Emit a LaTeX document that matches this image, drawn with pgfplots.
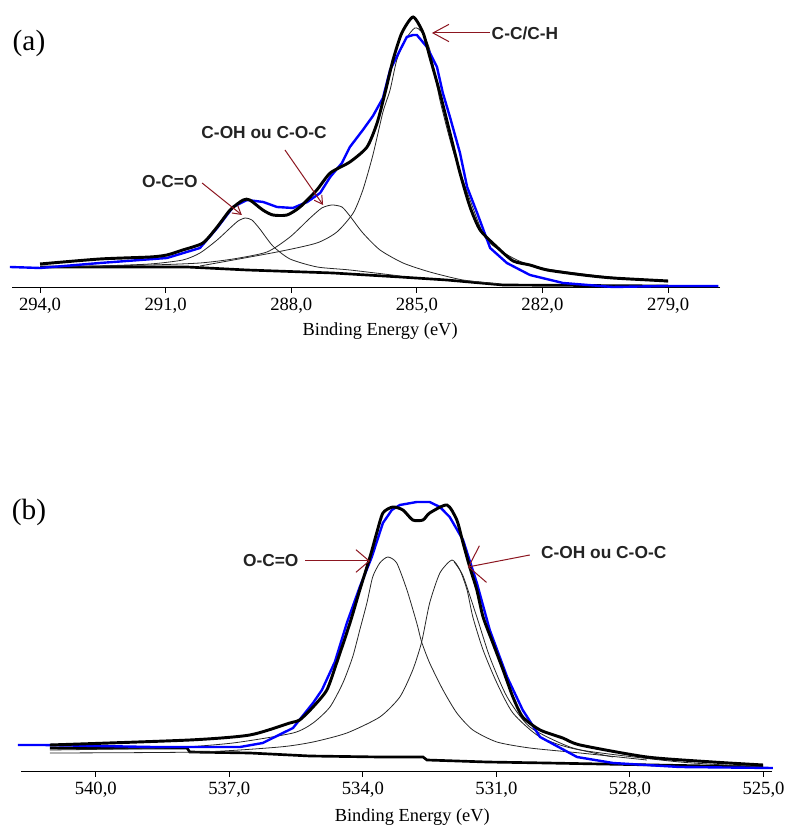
\documentclass[border=0pt]{standalone}
\usepackage{fontspec}
\setmainfont{Liberation Serif}
\newfontfamily\labelfont{Liberation Sans}
\usepackage{pgfplots}
\pgfplotsset{compat=1.18}
\usetikzlibrary{arrows.meta}
\definecolor{arrowred}{RGB}{140,22,32}
\definecolor{labelgray}{RGB}{35,35,35}

\pgfplotsset{
  env/.style={black, line width=2.2pt, smooth, tension=0.4},
  raw/.style={blue, line width=1.8pt},
  comp/.style={black!85, line width=0.6pt, smooth, tension=0.4},
  bgline/.style={black, line width=2pt},
  xpsaxis/.style={
    scale only axis, anchor=south west,
    axis x line*=bottom, axis y line=none,
    x dir=reverse, ymin=0, clip=false,
    xtick align=outside, major tick length=3.75pt,
    tick style={black, line width=0.75pt},
    axis line style={black, line width=0.75pt},
    ticklabel style={font=\fontsize{14}{16}\selectfont},
    xlabel={Binding Energy (eV)},
    label style={font=\fontsize{13.8}{16}\selectfont},
  },
}
\tikzset{
  annot/.style={font=\labelfont\bfseries\fontsize{13}{15}\selectfont, text=labelgray, inner sep=1pt},
  arr/.style={draw=arrowred, line width=0.75pt},
}

\begin{document}
\begin{tikzpicture}
\useasboundingbox (0,0) rectangle (592.5pt,620.25pt);

% ---------------- (a) C 1s ----------------
\begin{axis}[xpsaxis,
  at={(9pt,404.25pt)}, width=531pt, height=216pt,
  xmin=277.76, xmax=294.67, ymax=288,
  xtick={279,282,285,288,291,294},
  xticklabels={{279,0},{282,0},{285,0},{288,0},{291,0},{294,0}},
  xlabel style={at={(axis description cs:0.52,0)}, anchor=center, yshift=-32.25pt},
]
% Shirley background
\addplot[bgline] coordinates {(294.00,21) (290.49,21) (289.06,18) (287.00,15) (285.40,11) (284.29,8) (282.94,3) (279.00,2)};
% fitted components
\addplot[comp] coordinates {(292.57,22) (291.37,24) (290.59,28) (290.18,35) (289.77,48) (289.46,60) (289.27,67) (289.10,70) (288.94,68) (288.75,59) (288.44,42) (288.03,29) (287.38,21) (286.60,18) (285.40,12)};
\addplot[comp] coordinates {(294.00,21) (291.37,23) (290.18,25) (289.39,29) (288.58,36) (288.03,51) (287.55,70) (287.27,80) (287.03,83) (286.79,81) (286.60,72) (286.29,55) (285.88,38) (285.33,25) (284.69,16) (283.90,8) (283.02,4)};
\addplot[comp] coordinates {(290.18,22) (288.34,36) (287.39,45) (286.91,56) (286.52,75) (286.29,98) (286.05,133) (285.81,176) (285.64,198) (285.48,228) (285.28,248) (285.05,260) (284.88,256) (284.69,238) (284.45,188) (284.14,138) (283.73,88) (283.33,48) (282.61,28) (281.89,19) (280.63,12) (279.00,6)};
% measured spectrum
\addplot[raw] coordinates {(294.72,21) (294.00,20) (292.57,25) (290.97,30) (290.18,40) (289.77,60) (289.39,81) (289.06,88) (288.67,86) (288.34,81) (287.96,80) (287.62,86) (287.31,95) (287.07,111) (286.79,125) (286.60,141) (286.29,158) (286.05,172) (285.81,190) (285.64,218) (285.40,238) (285.24,251) (285.09,253) (285.00,253) (284.76,241) (284.52,221) (284.38,195) (284.21,171) (283.97,135) (283.80,101) (283.56,75) (283.25,40) (282.85,25) (282.30,13) (281.51,5) (280.32,1) (279.00,2) (277.80,2)};
% envelope of the fit
\addplot[env] coordinates {(294.00,24) (292.57,29) (291.37,31) (290.97,33) (290.59,38) (290.11,45) (289.77,61) (289.46,78) (289.15,88) (288.99,88) (288.68,78) (288.44,73) (288.10,73) (287.79,81) (287.39,98) (287.07,115) (286.60,126) (286.19,141) (285.95,165) (285.76,195) (285.57,228) (285.36,255) (285.09,271) (284.85,255) (284.69,231) (284.45,195) (284.21,155) (283.97,115) (283.73,81) (283.49,58) (283.09,41) (282.70,27) (282.30,23) (281.89,18) (281.03,13) (280.32,10) (279.00,7)};
% peak assignments
\draw[arr, -{Straight Barb[length=12pt, width=13pt]}] (axis cs:283.25,255) -- (axis cs:284.64,255);
\node[annot, anchor=west] at (axis cs:283.25,255) {C-C/C-H};
\node[annot] at (axis cs:288.65,155) {C-OH ou C-O-C};
\draw[arr, -{Straight Barb[length=6pt, width=7pt]}] (axis cs:288.15,138) -- (axis cs:287.24,83);
\node[annot] at (axis cs:290.90,106) {O-C=O};
\draw[arr, -{Straight Barb[length=6pt, width=7pt]}] (axis cs:290.13,105) -- (axis cs:289.18,73);
\end{axis}

% ---------------- (b) O 1s ----------------
\begin{axis}[xpsaxis,
  at={(15.75pt,41.25pt)}, width=563.25pt, height=226.5pt,
  xmin=524.81, xmax=541.68, ymax=302,
  xtick={525,528,531,534,537,540},
  xticklabels={{525,0},{528,0},{531,0},{534,0},{537,0},{540,0}},
  xlabel style={at={(axis description cs:0.521,0)}, anchor=center, yshift=-33.75pt},
]
% Shirley background
\addplot[bgline] coordinates {(541.03,24) (537.95,24) (537.89,20) (536.54,19) (535.19,16) (533.62,15) (532.65,15) (532.56,12) (531.21,10) (529.87,9) (525.01,5)};
% fitted components
\addplot[comp] coordinates {(541.03,22) (538.40,24) (536.92,29) (535.57,39) (535.12,49) (534.74,65) (534.45,89) (534.23,115) (534.07,142) (533.91,169) (533.78,195) (533.62,209) (533.44,215) (533.24,209) (533.01,182) (532.79,149) (532.68,130) (532.50,109) (532.20,82) (531.89,59) (531.53,42) (530.99,30) (530.25,24) (529.12,19) (527.62,12)};
\addplot[comp] coordinates {(541.03,19) (537.66,20) (535.87,25) (535.12,30) (534.36,39) (533.62,55) (533.17,75) (532.88,102) (532.68,130) (532.50,169) (532.27,199) (532.00,212) (531.82,202) (531.66,182) (531.53,155) (531.30,122) (530.99,89) (530.63,59) (530.02,35) (529.12,22) (526.88,10) (525.01,5)};
\addplot[comp] coordinates {(531.95,210) (531.75,196) (531.44,155) (531.15,115) (530.76,75) (530.25,45) (529.35,25) (528.38,15)};
% measured spectrum
\addplot[raw] coordinates {(541.75,27) (541.19,27) (538.72,25) (536.76,25) (536.25,29) (535.57,44) (535.12,69) (534.92,82) (534.63,110) (534.36,149) (534.07,185) (533.80,215) (533.55,249) (533.35,262) (533.17,267) (532.79,270) (532.50,270) (532.27,265) (532.05,255) (531.75,232) (531.44,189) (531.15,142) (530.76,95) (530.41,62) (530.02,35) (529.19,15) (528.38,9) (526.88,5) (524.79,4)};
% envelope of the fit
\addplot[env] coordinates {(541.03,27) (537.89,32) (536.54,37) (535.64,49) (535.42,52) (535.12,65) (534.81,82) (534.59,109) (534.29,149) (534.07,182) (533.84,215) (533.69,239) (533.55,259) (533.33,265) (533.10,262) (532.88,252) (532.65,252) (532.50,259) (532.11,267) (531.89,252) (531.75,229) (531.60,205) (531.44,182) (531.30,155) (531.08,129) (530.85,102) (530.63,75) (530.41,55) (530.02,42) (529.51,34) (529.12,27) (527.62,15) (526.14,10) (525.01,7)};
% peak assignments
\node[annot] at (axis cs:536.07,211) {O-C=O};
\draw[arr, -{Straight Barb[length=10pt, width=17pt]}] (axis cs:535.30,211) -- (axis cs:533.84,211);
\node[annot] at (axis cs:528.59,219) {C-OH ou C-O-C};
\draw[arr, -{Straight Barb[length=11pt, width=28pt]}] (axis cs:530.25,217) -- (axis cs:531.64,205);
\end{axis}

\node[font=\fontsize{22}{26}\selectfont] at (21.75pt,588pt) {(a)};
\node[font=\fontsize{22}{26}\selectfont] at (21.75pt,236.25pt) {(b)};
\end{tikzpicture}
\end{document}
